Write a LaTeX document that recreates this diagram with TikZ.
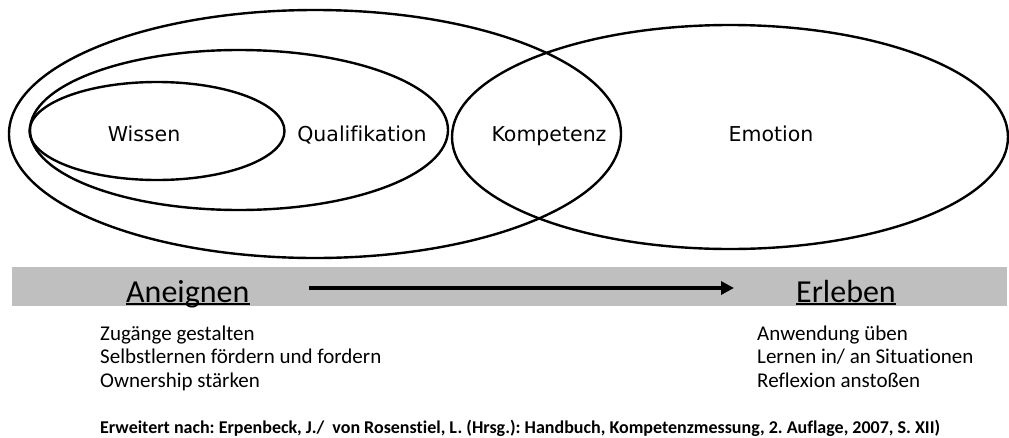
\documentclass[tikz,border=0pt]{standalone}
\usepackage{fontspec}
\setmainfont{Carlito}[Ligatures={NoCommon}]
\newfontfamily\vfont{DejaVu Sans}[Ligatures={NoCommon}]
\usetikzlibrary{shapes.geometric,arrows.meta}
\definecolor{bargray}{HTML}{BFBFBF}
\frenchspacing
\tikzset{
  ell/.style={draw=black, line width=2.4pt, ellipse, inner sep=0pt},
  ellabel/.style={anchor=base, inner sep=0pt, font=\vfont\fontsize{20.5}{24}\selectfont},
  head/.style={anchor=base west, inner sep=0pt, font=\fontsize{32}{36}\selectfont},
  item/.style={anchor=base west, inner sep=0pt, font=\fontsize{21}{24}\selectfont},
  foot/.style={anchor=base west, inner sep=0pt, font=\bfseries\fontsize{18}{20}\selectfont},
  uline/.style={line width=1.4pt},
  flow/.style={line width=3.5pt, -{Triangle[length=13pt,width=13pt]}}
}
\begin{document}
\begin{tikzpicture}[x=1pt,y=-1pt]
\useasboundingbox (0,0) rectangle (1009,437);
% ellipses
\node[ell, minimum width=612pt, minimum height=248pt] (outer) at (315,134) {};
\node[ell, minimum width=418pt, minimum height=160pt] (quali) at (239,130) {};
\node[ell, minimum width=255pt, minimum height=98pt] (wissen) at (157,131) {};
\node[ell, minimum width=556pt, minimum height=224pt] (emotion) at (730,137) {};
% labels
\node[ellabel] (tw) at (144,141) {Wissen};
\node[ellabel] (tq) at (362,141) {Qualifikation};
\node[ellabel] (tk) at (549,141) {Kompetenz};
\node[ellabel] (te) at (771,141) {Emotion};
% bar
\fill[bargray] (12,267) rectangle (1007,306);
\node[head] (an) at (126,302) {Aneignen};
\node[head] (er) at (796,302) {Erleben};
\draw[uline] ([yshift=-2pt]an.base west) -- ([yshift=-2pt]an.base east);
\draw[uline] ([yshift=-2pt]er.base west) -- ([yshift=-2pt]er.base east);
\coordinate (as) at (309,288);
\coordinate (ae) at (734,288);
\draw[flow] (as) -- (ae);
% lists
\node[item] (l1) at (100,340) {Zugänge gestalten};
\node[item] (l2) at (100,363.5) {Selbstlernen fördern und fordern};
\node[item] (l3) at (100,387) {Ownership stärken};
\node[item] (r1) at (757,340) {Anwendung üben};
\node[item] (r2) at (757,363.5) {Lernen in/ an Situationen};
\node[item] (r3) at (757,387) {Reflexion anstoßen};
% footer
\node[foot] (ft) at (100,433) {Erweitert nach: Erpenbeck, J./\ \ von Rosenstiel, L. (Hrsg.): Handbuch, Kompetenzmessung, 2. Auflage, 2007, S. XII)};
\end{tikzpicture}
\end{document}
